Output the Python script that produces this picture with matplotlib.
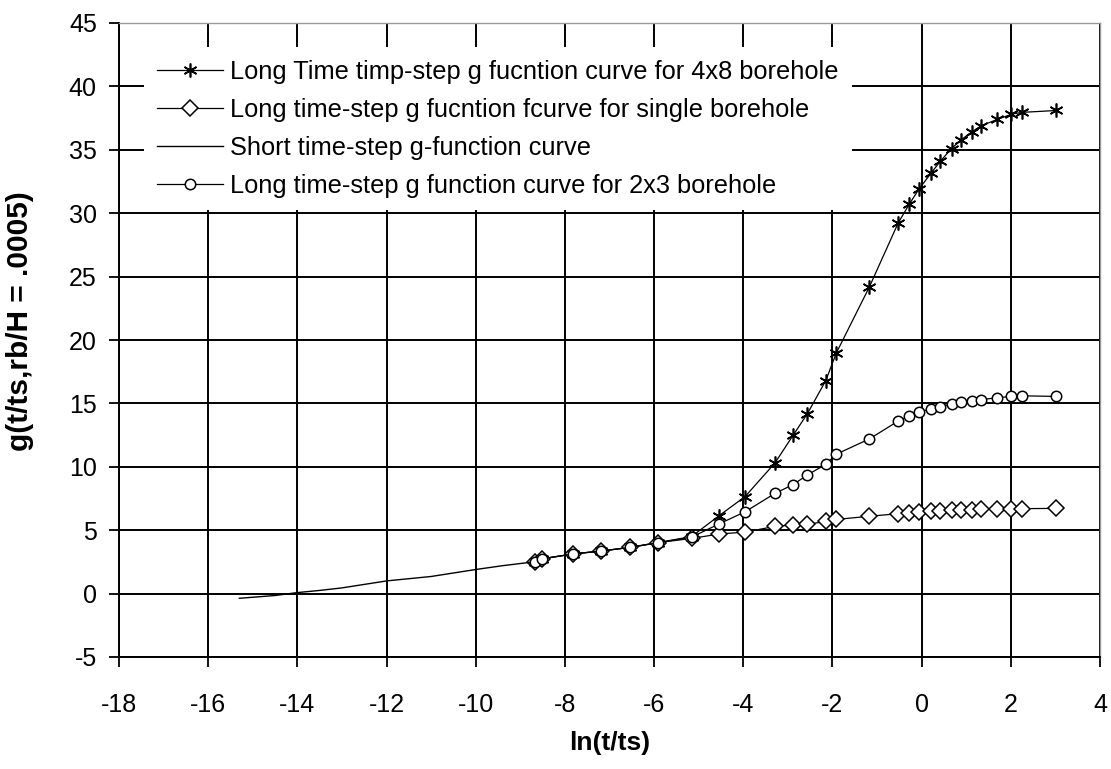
import matplotlib
matplotlib.use("Agg")
import matplotlib.pyplot as plt

plt.rcParams['font.family'] = ['Liberation Sans', 'DejaVu Sans']
plt.rcParams['axes.unicode_minus'] = False

# 数据：长时间步与短时间步 g 函数曲线
x_long = [-8.67, -8.52, -7.81, -7.18, -6.53, -5.91, -5.16, -4.54, -3.96, -3.29,
          -2.88, -2.56, -2.15, -1.91, -1.17, -0.53, -0.28, -0.06, 0.22, 0.42,
          0.67, 0.89, 1.12, 1.34, 1.70, 2.01, 2.24, 3.02]
g_4x8 = [2.52, 2.74, 3.13, 3.36, 3.65, 4.02, 4.5, 6.15, 7.65, 10.3,
         12.5, 14.2, 16.8, 19.0, 24.2, 29.2, 30.7, 31.9, 33.2, 34.1,
         35.1, 35.8, 36.4, 36.9, 37.4, 37.8, 37.95, 38.1]
g_single = [2.52, 2.74, 3.13, 3.36, 3.65, 4.02, 4.35, 4.7, 4.85, 5.3,
            5.42, 5.45, 5.7, 5.85, 6.1, 6.3, 6.35, 6.45, 6.5, 6.55,
            6.57, 6.6, 6.62, 6.65, 6.68, 6.7, 6.7, 6.72]
g_2x3 = [2.52, 2.74, 3.13, 3.36, 3.65, 4.02, 4.45, 5.5, 6.45, 7.9,
         8.6, 9.36, 10.2, 11.0, 12.2, 13.6, 14.0, 14.35, 14.55, 14.75,
         14.95, 15.1, 15.2, 15.3, 15.45, 15.55, 15.6, 15.55]
x_short = [-15.3, -14.5, -14.0, -13.5, -13.0, -12.0, -11.0, -10.0, -9.4, -8.7]
g_short = [-0.37, -0.15, 0.08, 0.25, 0.45, 1.0, 1.35, 1.9, 2.2, 2.5]

labels = ["Long Time timp-step g fucntion curve for 4x8 borehole",
          "Long time-step g fucntion fcurve for single borehole",
          "Short time-step g-function curve",
          "Long time-step g function curve for 2x3 borehole"]

fig = plt.figure(figsize=(11.11, 7.69), dpi=100)
ax = fig.add_axes([119/1111, 1 - 657/769, 981/1111, 634/769])

ax.plot(x_long, g_4x8, color='black', lw=0.9, marker=(6, 2, 0), ms=10,
        mew=1.2, label=labels[0], zorder=3)
ax.plot(x_long, g_single, color='black', lw=0.9, marker='D', ms=8.5,
        mfc='white', mec='black', mew=1.1, label=labels[1], zorder=3)
ax.plot(x_short, g_short, color='black', lw=1.0, label=labels[2], zorder=3)
ax.plot(x_long, g_2x3, color='black', lw=0.9, marker='o', ms=7.5,
        mfc='white', mec='black', mew=1.1, label=labels[3], zorder=3)

ax.set_xlim(-18, 4)
ax.set_ylim(-5, 45)
ax.set_xticks(range(-18, 5, 2))
ax.set_yticks(range(-5, 46, 5))
ax.grid(True, color='black', lw=1.4)
ax.set_axisbelow(True)

for side in ['left', 'bottom']:
    ax.spines[side].set_color('black')
    ax.spines[side].set_linewidth(1.4)
for side in ['top', 'right']:
    ax.spines[side].set_color('#999999')
    ax.spines[side].set_linewidth(1.0)

ax.tick_params(axis='both', direction='out', length=7, width=1.3,
               labelsize=18, color='black')
ax.tick_params(axis='x', pad=19)
ax.tick_params(axis='y', pad=9)

ax.set_xlabel("ln(t/ts)", fontsize=19, fontweight='bold', labelpad=10)
ax.set_ylabel("g(t/ts,rb/H = .0005)", fontsize=21.5, fontweight='bold')
ax.yaxis.set_label_coords(-0.087, 0.53)

leg = ax.legend(loc='upper left', bbox_to_anchor=(25/981, 1 - 24/634),
                borderaxespad=0, frameon=True, fancybox=False,
                edgecolor='none', facecolor='white', framealpha=1,
                fontsize=18.3, handlelength=2.6, handletextpad=0.3,
                labelspacing=0.55, borderpad=0.5)
leg.set_zorder(5)

fig.savefig("out.png", dpi=100)
